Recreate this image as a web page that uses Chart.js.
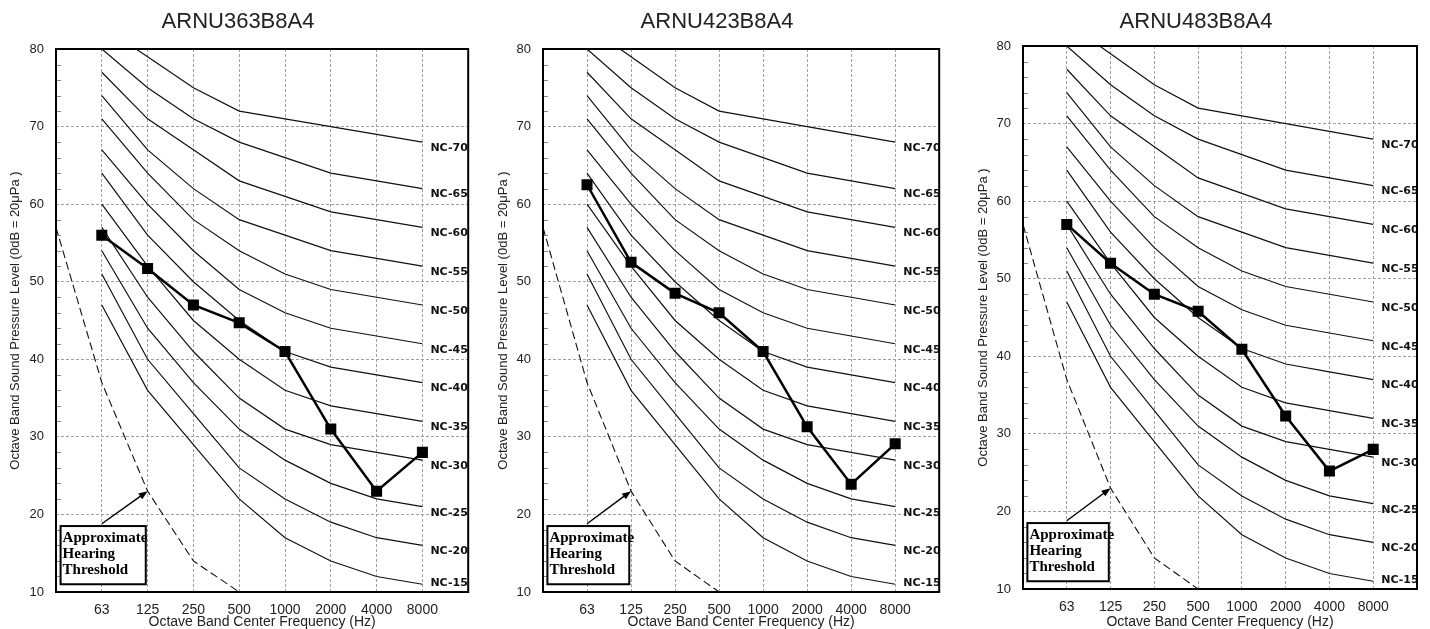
<!DOCTYPE html>
<html>
<head>
<meta charset="utf-8">
<script src="https://cdn.jsdelivr.net/npm/chart.js@4.4.1/dist/chart.umd.min.js"></script>
<style>
  html, body { margin: 0; padding: 0; background: #fff; }
  body { width: 1430px; height: 629px; position: relative; overflow: hidden; }
  .panel { position: absolute; top: 0; height: 629px; }
</style>
</head>
<body>
<div class="panel" style="left:0px;width:476px"><canvas id="c1"></canvas></div>
<div class="panel" style="left:487px;width:460px"><canvas id="c2"></canvas></div>
<div class="panel" style="left:967px;width:458px"><canvas id="c3"></canvas></div>

<script>
// octave bands, first and last slots are empty edge slots
const bandLabels = ['', '63', '125', '250', '500', '1000', '2000', '4000', '8000', ''];

// NC curves, 63 .. 8000 Hz
const nc15 = [47, 36, 29, 22, 17, 14, 12, 11];
const nc20 = [51, 40, 33, 26, 22, 19, 17, 16];
const nc25 = [54, 44, 37, 31, 27, 24, 22, 21];
const nc30 = [57, 48, 41, 35, 31, 29, 28, 27];
const nc35 = [60, 52, 45, 40, 36, 34, 33, 32];
const nc40 = [64, 56, 50, 45, 41, 39, 38, 37];
const nc45 = [67, 60, 54, 49, 46, 44, 43, 42];
const nc50 = [71, 64, 58, 54, 51, 49, 48, 47];
const nc55 = [74, 67, 62, 58, 56, 54, 53, 52];
const nc60 = [77, 71, 67, 63, 61, 59, 58, 57];
const nc65 = [80, 75, 71, 68, 66, 64, 63, 62];
const nc70 = [83, 79, 75, 72, 71, 70, 69, 68];

// approximate hearing threshold, from the left edge slot to 500 Hz
const hearingThreshold = [57, 37, 23, 14, 10];

// measured units
const unit363 = [56, 51.7, 47, 44.7, 41, 31, 23, 28];
const unit423 = [62.5, 52.5, 48.5, 46, 41, 31.3, 23.9, 29.1];
const unit483 = [57, 52, 48, 45.8, 40.9, 32.3, 25.2, 28];

const yTicks = [10, 20, 30, 40, 50, 60, 70, 80];

const ncCurves = [
  ['NC-15', nc15], ['NC-20', nc20], ['NC-25', nc25], ['NC-30', nc30],
  ['NC-35', nc35], ['NC-40', nc40], ['NC-45', nc45], ['NC-50', nc50],
  ['NC-55', nc55], ['NC-60', nc60], ['NC-65', nc65], ['NC-70', nc70]
];

const pad = arr => [null].concat(arr, [null]);

Chart.defaults.font.family = '"Liberation Sans", Arial, sans-serif';
Chart.defaults.color = '#222';

// note box and arrow, in scale units (band index / dB)
const note = { x0: 0.1, x1: 1.96, top: 18.5, bottom: 11, arrowFrom: [1, 18.8], arrowTo: [2, 23] };
const noteLines = ['Approximate', 'Hearing', 'Threshold'];

const decor = {
  id: 'decor',
  afterDatasetsDraw(chart) {
    const { ctx, chartArea: a, scales: { x, y } } = chart;
    ctx.save();

    // minor ticks on the left edge
    ctx.strokeStyle = '#888';
    ctx.lineWidth = 1;
    for (let v = 12; v < 80; v += 2) {
      if (v % 10 === 0) continue;
      const py = Math.round(y.getPixelForValue(v)) + 0.5;
      ctx.beginPath();
      ctx.moveTo(a.left, py);
      ctx.lineTo(a.left + 5, py);
      ctx.stroke();
    }

    // NC labels
    ctx.fillStyle = '#111';
    ctx.font = 'bold 11px "DejaVu Sans", sans-serif';
    ctx.textAlign = 'left';
    ctx.textBaseline = 'middle';
    const lx = x.getPixelForValue(8) + 8;
    ncCurves.forEach(([name, vals]) => {
      const py = Math.min(y.getPixelForValue(vals[vals.length - 1]) + 6, a.bottom - 9);
      ctx.fillText(name, lx, py);
    });

    // arrow
    const ax0 = x.getPixelForValue(note.arrowFrom[0]), ay0 = y.getPixelForValue(note.arrowFrom[1]);
    const ax1 = x.getPixelForValue(note.arrowTo[0]), ay1 = y.getPixelForValue(note.arrowTo[1]);
    const ang = Math.atan2(ay1 - ay0, ax1 - ax0);
    ctx.strokeStyle = '#000';
    ctx.fillStyle = '#000';
    ctx.lineWidth = 1.5;
    ctx.beginPath();
    ctx.moveTo(ax0, ay0);
    ctx.lineTo(ax1 - 6 * Math.cos(ang), ay1 - 6 * Math.sin(ang));
    ctx.stroke();
    ctx.beginPath();
    ctx.moveTo(ax1, ay1);
    ctx.lineTo(ax1 - 9 * Math.cos(ang) + 3.5 * Math.sin(ang), ay1 - 9 * Math.sin(ang) - 3.5 * Math.cos(ang));
    ctx.lineTo(ax1 - 9 * Math.cos(ang) - 3.5 * Math.sin(ang), ay1 - 9 * Math.sin(ang) + 3.5 * Math.cos(ang));
    ctx.closePath();
    ctx.fill();

    // note box
    const bx0 = x.getPixelForValue(note.x0), bx1 = x.getPixelForValue(note.x1);
    const by0 = y.getPixelForValue(note.top), by1 = y.getPixelForValue(note.bottom);
    ctx.fillStyle = '#fff';
    ctx.fillRect(bx0, by0, bx1 - bx0, by1 - by0);
    ctx.lineWidth = 2;
    ctx.strokeRect(bx0, by0, bx1 - bx0, by1 - by0);
    ctx.fillStyle = '#000';
    ctx.font = 'bold 15px "Liberation Serif", "Times New Roman", serif';
    noteLines.forEach((t, i) => ctx.fillText(t, bx0 + 2, by0 + 12 + i * 16));

    // frame
    ctx.lineWidth = 2;
    ctx.strokeStyle = '#000';
    ctx.strokeRect(a.left, a.top, a.right - a.left, a.bottom - a.top);
    ctx.restore();
  }
};

// left/right = layout padding, top/bottom = plot edges in the canvas, yTitle = y title centre
const panels = [
  { id: 'c1', title: 'ARNU363B8A4', values: unit363, left: 6, right: 6, top: 49, bottom: 592, yTitle: 15 },
  { id: 'c2', title: 'ARNU423B8A4', values: unit423, left: 4, right: 4, top: 49, bottom: 592, yTitle: 16 },
  { id: 'c3', title: 'ARNU483B8A4', values: unit483, left: 8, right: 8, top: 46, bottom: 589, yTitle: 16 }
];

panels.forEach(p => {
  const datasets = [{
    data: pad(p.values),
    borderColor: '#000',
    backgroundColor: '#000',
    borderWidth: 2.5,
    pointStyle: 'rect',
    pointRadius: 7.8,
    pointBorderWidth: 0,
    tension: 0
  }];
  ncCurves.forEach(([name, vals]) => {
    datasets.push({
      label: name,
      data: pad(vals),
      borderColor: '#111',
      borderWidth: 1.2,
      pointRadius: 0,
      tension: 0
    });
  });
  datasets.push({
    data: hearingThreshold,
    borderColor: '#111',
    borderWidth: 1.1,
    borderDash: [8, 4],
    pointRadius: 0,
    tension: 0
  });

  new Chart(document.getElementById(p.id), {
    type: 'line',
    data: { labels: bandLabels, datasets: datasets },
    options: {
      responsive: true,
      maintainAspectRatio: false,
      animation: false,
      events: [],
      layout: { padding: { left: p.left, right: p.right, top: 0, bottom: 0 } },
      plugins: {
        legend: { display: false },
        tooltip: { enabled: false },
        title: {
          display: true,
          text: p.title,
          font: { size: 22, weight: 'normal' },
          color: '#222',
          padding: { top: 9, bottom: p.top - 9 - 26.4 }
        }
      },
      scales: {
        x: {
          type: 'category',
          offset: false,
          grid: { color: '#a0a0a0', lineWidth: 1, drawTicks: true, tickLength: 10, tickColor: 'rgba(0,0,0,0)' },
          border: { display: false, dash: [3, 2] },
          ticks: { autoSkip: false, maxRotation: 0, font: { size: 14 }, padding: 0, color: '#222' },
          title: {
            display: true,
            text: 'Octave Band Center Frequency (Hz)',
            font: { size: 14, lineHeight: 1 },
            padding: { top: 0, bottom: 0 },
            color: '#222'
          },
          afterFit: s => {
            s.height = 629 - p.bottom;
            s.paddingLeft = 0;
            s.paddingRight = 0;
          }
        },
        y: {
          min: 10,
          max: 80,
          afterBuildTicks: s => { s.ticks = yTicks.map(v => ({ value: v })); },
          grid: { color: '#a0a0a0', lineWidth: 1, drawTicks: false },
          border: { display: false, dash: [3, 2] },
          ticks: { font: { size: 13 }, padding: 12, color: '#222' },
          title: {
            display: true,
            text: 'Octave Band Sound Pressure Level (0dB = 20μPa )',
            font: { size: 13 },
            padding: { top: Math.max(p.yTitle - p.left - 7.8, 0), bottom: 0 },
            color: '#222'
          },
          afterFit: s => { s.width = 56 - p.left; }
        }
      }
    },
    plugins: [decor]
  });
});
</script>
</body>
</html>
